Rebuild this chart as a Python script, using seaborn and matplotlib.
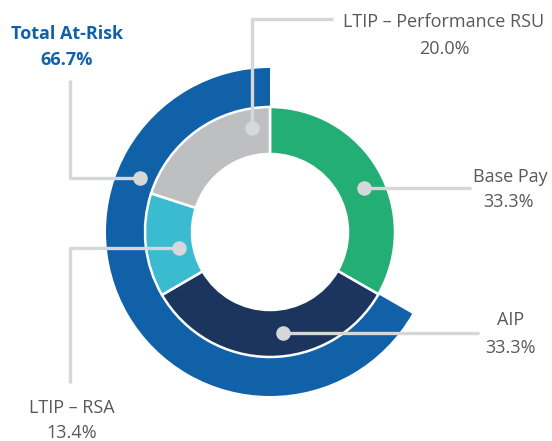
import numpy as np
import matplotlib.pyplot as plt
import seaborn as sns

# inner ring: pay mix
labels = ['Base Pay', 'AIP', 'LTIP – RSA', 'LTIP – Performance RSU']
values = [33.3, 33.3, 13.4, 20.0]
colors = ['#22AE75', '#1B355F', '#3BBBD0', '#BEBFC1']
pct_text = ['33.3%', '33.3%', '13.4%', '20.0%']

# outer ring: total at-risk (base pay part left empty)
outer_label = 'Total At-Risk'
outer_values = [33.3, 66.7]
outer_pct = '66.7%'
outer_color = '#1161A9'

sns.set_style('white')
plt.rcParams['font.family'] = ['Open Sans', 'DejaVu Sans']

fig = plt.figure(figsize=(5.52, 4.41), dpi=100)
ax = fig.add_axes([0, 0, 1, 1])

cx, cy = 270, 232
r_in, r_mid, r_out = 78, 125, 164

# y axis goes down (pixel like), so start at -90 and go "counterclock" = clockwise on screen
ax.pie(outer_values, radius=r_out, center=(cx, cy), startangle=-90, counterclock=True,
       colors=['none', outer_color], wedgeprops=dict(width=r_out - r_mid, linewidth=0))
ax.pie(values, radius=r_mid, center=(cx, cy), startangle=-90, counterclock=True,
       colors=colors, wedgeprops=dict(width=r_mid - r_in, edgecolor='white', linewidth=1.8))

ax.set_xlim(0, 552)
ax.set_ylim(441, 0)
ax.set_aspect('equal')
ax.axis('off')

line_c = '#D6D7D9'
txt_c = '#595959'
fs = 13


def anchor(angle, r):
    a = np.deg2rad(angle)
    return cx + r * np.sin(a), cy - r * np.cos(a)


def leader(pts):
    xs, ys = zip(*pts)
    ax.plot(xs, ys, color=line_c, lw=2.4, solid_capstyle='butt', zorder=5)
    ax.scatter([xs[0]], [ys[0]], s=110, color=line_c, zorder=6, linewidths=0)


# Base Pay
x0, y0 = anchor(65, 104)
leader([(x0, y0), (471, y0)])
ax.text(510, 177, labels[0], ha='center', va='center', color=txt_c, fontsize=fs)
ax.text(508, 202, pct_text[0], ha='center', va='center', color=txt_c, fontsize=fs)

# AIP
x0, y0 = anchor(172.7, 102)
leader([(x0, y0), (479, y0)])
ax.text(511, 320, labels[1], ha='center', va='center', color=txt_c, fontsize=fs)
ax.text(511, 348, pct_text[1], ha='center', va='center', color=txt_c, fontsize=fs)

# LTIP - RSA
x0, y0 = anchor(260, 92)
leader([(x0, y0), (70, y0), (70, 383)])
ax.text(72, 408, labels[2], ha='center', va='center', color=txt_c, fontsize=fs)
ax.text(72, 433, pct_text[2], ha='center', va='center', color=txt_c, fontsize=fs)

# LTIP - Performance RSU
x0, y0 = anchor(350.3, 106)
leader([(x0, y0), (x0, 19), (333, 19)])
ax.text(444, 22, labels[3], ha='center', va='center', color=txt_c, fontsize=fs)
ax.text(444, 49, pct_text[3], ha='center', va='center', color=txt_c, fontsize=fs)

# Total At-Risk
x0, y0 = anchor(292.6, 141)
leader([(x0, y0), (70, y0), (70, 80)])
ax.text(67, 34, outer_label, ha='center', va='center', color=outer_color,
        fontsize=fs, fontweight='bold')
ax.text(67, 60, outer_pct, ha='center', va='center', color=outer_color,
        fontsize=fs, fontweight='bold')

fig.savefig('out.png', dpi=100, facecolor='white')
